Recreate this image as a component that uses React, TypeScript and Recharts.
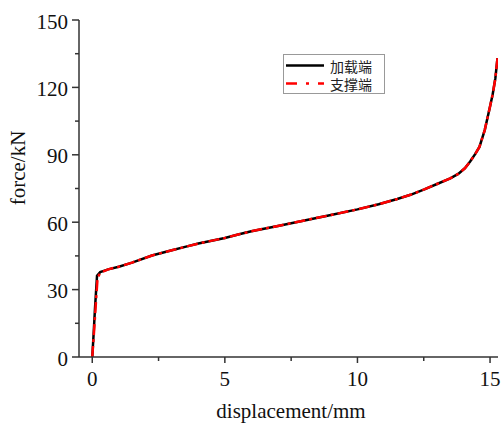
import React from 'react';
import { LineChart, Line, XAxis, YAxis, Legend } from 'recharts';

const seriesNames = ['加载端', '支撑端'];

const loadDisp = [0, 0.05, 0.1, 0.18, 0.3, 0.6, 1.0, 1.5, 2.25, 3.0, 3.5, 4.0, 5.0, 5.5, 6.0, 7.0, 8.0, 9.0, 10.0, 10.8, 11.5, 12.0, 12.5, 13.0, 13.5, 13.8, 14.05, 14.25, 14.45, 14.6, 14.8, 15.0, 15.1, 15.2, 15.28];
const loadForce = [0, 10, 21, 36.2, 37.8, 39, 40.2, 42, 45.2, 47.5, 49, 50.5, 53, 54.5, 56, 58.3, 60.8, 63.2, 65.7, 68, 70.3, 72.2, 74.5, 77, 79.5, 81.5, 84, 87, 90.5, 93.5, 101, 111.5, 117, 124, 133];

const supportDisp = [0, 0.06, 0.12, 0.2, 0.3, 0.6, 1.0, 1.5, 2.25, 3.0, 3.5, 4.0, 5.0, 5.5, 6.0, 7.0, 8.0, 9.0, 10.0, 10.8, 11.5, 12.0, 12.5, 13.0, 13.5, 13.8, 14.05, 14.25, 14.45, 14.6, 14.8, 15.0, 15.1, 15.2, 15.28];
const supportForce = [0, 10, 21, 35.2, 37.5, 39, 40.2, 42, 45.2, 47.5, 49, 50.5, 53, 54.5, 56, 58.3, 60.8, 63.2, 65.7, 68, 70.3, 72.2, 74.5, 77, 79.5, 81.5, 84, 87, 90.5, 93.5, 101, 111.5, 117, 124, 133];

const xTicks = [0, 2.5, 5, 7.5, 10, 12.5, 15];
const xMajor = [0, 5, 10, 15];
const yTicks = [0, 15, 30, 45, 60, 75, 90, 105, 120, 135, 150];
const yMajor = [0, 30, 60, 90, 120, 150];

const loadData = loadDisp.map((d, i) => ({ x: d, y: loadForce[i] }));
const supportData = supportDisp.map((d, i) => ({ x: d, y: supportForce[i] }));

const AXIS = '#333';
const SERIF = '"Liberation Serif", "Times New Roman", serif';
const CJK = '"Noto Sans CJK SC", sans-serif';

const XTick = (props: any) => {
  const { x, y, payload } = props;
  const major = xMajor.includes(payload.value);
  return (
    <g>
      <line x1={x} x2={x} y1={y} y2={y + (major ? 6 : 4)} stroke={AXIS} strokeWidth={1.5} />
      {major && (
        <text x={x} y={y + 22} textAnchor="middle" dominantBaseline="central" fontFamily={SERIF} fontSize={21} fill="#111">
          {payload.value}
        </text>
      )}
    </g>
  );
};

const YTick = (props: any) => {
  const { x, y, payload } = props;
  const major = yMajor.includes(payload.value);
  return (
    <g>
      <line x1={x} x2={x - (major ? 7 : 4)} y1={y} y2={y} stroke={AXIS} strokeWidth={1.5} />
      {major && (
        <text x={x - 11} y={y + 1.5} textAnchor="end" dominantBaseline="central" fontFamily={SERIF} fontSize={21} fill="#111">
          {payload.value}
        </text>
      )}
    </g>
  );
};

const renderLegend = () => (
  <div
    style={{
      border: '1px solid #999',
      width: 100,
      height: 38,
      background: '#fff',
      boxSizing: 'content-box',
    }}
  >
    <svg width={100} height={38} style={{ display: 'block' }}>
      <line x1={2} x2={40} y1={10.5} y2={10.5} stroke="#000" strokeWidth={2.5} />
      <text x={46} y={10.5} dominantBaseline="central" fontFamily={CJK} fontSize={14} fill="#222">
        {seriesNames[0]}
      </text>
      <line x1={2} x2={40} y1={28.5} y2={28.5} stroke="#f00" strokeWidth={2.5} strokeDasharray="11 9 3 9" />
      <text x={46} y={28.5} dominantBaseline="central" fontFamily={CJK} fontSize={14} fill="#222">
        {seriesNames[1]}
      </text>
    </svg>
  </div>
);

export default function App() {
  return (
    <div style={{ position: 'absolute', left: 0, top: 0, width: 503, height: 425, background: '#fff' }}>
      <LineChart width={503} height={425} margin={{ top: 20, right: 5, bottom: 0, left: 0 }}>
        <XAxis
          type="number"
          dataKey="x"
          domain={[-0.5, 15.3]}
          ticks={xTicks}
          height={68}
          tickSize={0}
          tickMargin={0}
          tick={<XTick />}
          axisLine={{ stroke: AXIS, strokeWidth: 1.5 }}
          tickLine={false}
          allowDataOverflow
          interval={0}
          label={{
            content: () => (
              <text x={291} y={411} textAnchor="middle" dominantBaseline="central" fontFamily={SERIF} fontSize={21} fill="#111">
                displacement/mm
              </text>
            ),
          }}
        />
        <YAxis
          type="number"
          dataKey="y"
          domain={[0, 150]}
          ticks={yTicks}
          width={79}
          tickSize={0}
          tickMargin={0}
          tick={<YTick />}
          axisLine={{ stroke: AXIS, strokeWidth: 1.5 }}
          tickLine={false}
          interval={0}
          label={{
            content: () => (
              <text x={18} y={168} transform="rotate(-90 18 168)" textAnchor="middle" dominantBaseline="central" fontFamily={SERIF} fontSize={21} fill="#111">
                force/kN
              </text>
            ),
          }}
        />
        <Legend
          content={renderLegend}
          layout="horizontal"
          verticalAlign="middle"
          align="center"
          wrapperStyle={{ position: 'absolute', left: 283, top: 54, width: 102, height: 40 }}
        />
        <Line
          data={loadData}
          dataKey="y"
          name={seriesNames[0]}
          type="linear"
          stroke="#000"
          strokeWidth={2.5}
          dot={false}
          activeDot={false}
          isAnimationActive={false}
        />
        <Line
          data={supportData}
          dataKey="y"
          name={seriesNames[1]}
          type="linear"
          stroke="#f00"
          strokeWidth={2.5}
          strokeDasharray="11 4 3 4"
          dot={false}
          activeDot={false}
          isAnimationActive={false}
        />
      </LineChart>
    </div>
  );
}
